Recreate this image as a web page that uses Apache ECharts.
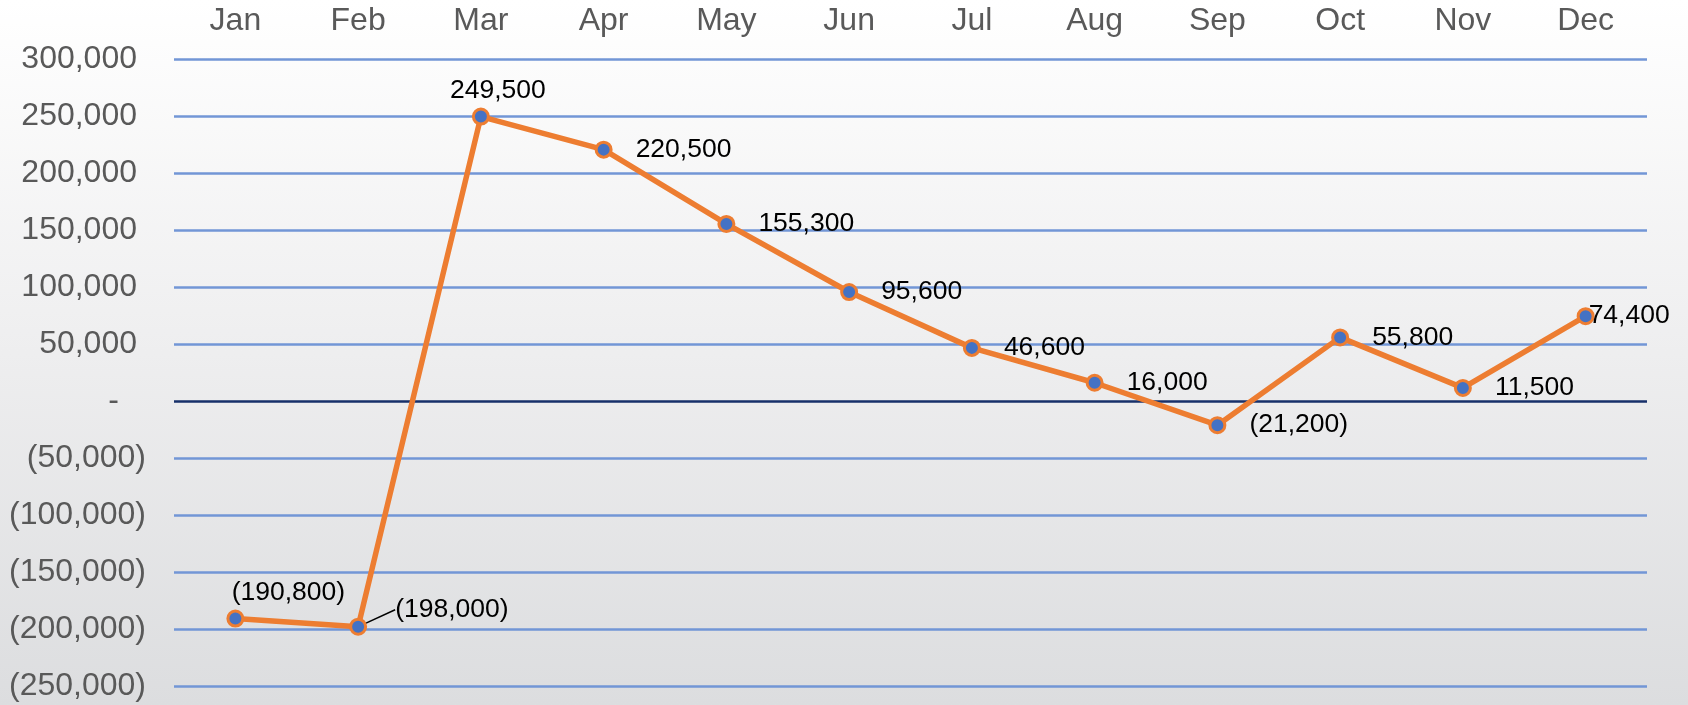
<!DOCTYPE html>
<html><head><meta charset="utf-8">
<script src="https://cdn.jsdelivr.net/npm/echarts@6/dist/echarts.min.js"></script>
<style>html,body{margin:0;padding:0;width:1688px;height:705px;overflow:hidden}#c{width:1688px;height:705px}</style>
</head><body><div id="c"></div>
<script>
const months = ['Jan','Feb','Mar','Apr','May','Jun','Jul','Aug','Sep','Oct','Nov','Dec'];
const values = [-190800, -198000, 249500, 220500, 155300, 95600, 46600, 16000, -21200, 55800, 11500, 74400];
const yMin = -250000, yMax = 300000, yStep = 50000;

const FONT = '"Liberation Sans", Arial, sans-serif';
function fmt(v) {
  if (v === 0) return '-';
  const s = Math.abs(v).toLocaleString('en-US');
  return v < 0 ? '(' + s + ')' : s;
}
const labelPos = ['top','right','top','right','right','right','right','right','right','right','right','right'];
const chart = echarts.init(document.getElementById('c'), null, {renderer: 'canvas'});

const zeroIdx = Math.round((0 - yMin) / yStep);
const nLines = Math.round((yMax - yMin) / yStep) + 1;
const splitColors = [];
for (let i = 0; i < nLines; i++) splitColors.push(i === zeroIdx ? '#17306a' : '#7296d6');

const seriesData = values.map((v, i) => {
  const item = { value: v, label: { position: labelPos[i], distance: labelPos[i] === 'top' ? 3 : 23 } };
  if (i === 11) item.label.distance = -6;
  if (i === 1) item.labelLine = { show: true, lineStyle: { color: '#000', width: 1.5 } };
  return item;
});
const layoutShift = { 0: { dx: 53 }, 1: { dx: 5, dy: -17 }, 2: { dx: 17 } };

chart.setOption({
  backgroundColor: { type: 'linear', x: 0, y: 0, x2: 0, y2: 1,
    colorStops: [{offset: 0, color: '#ffffff'}, {offset: 0.5, color: '#eeeeef'}, {offset: 1, color: '#dcdddf'}] },
  animation: false,
  grid: { left: 174, right: 41, top: 59, bottom: 19, containLabel: false },
  xAxis: {
    type: 'category', position: 'top', data: months, boundaryGap: true,
    axisLine: { show: false }, axisTick: { show: false },
    axisLabel: { color: '#595959', fontSize: 32, fontFamily: FONT, margin: 22, interval: 0 }
  },
  yAxis: {
    type: 'value', min: yMin, max: yMax, interval: yStep,
    axisLine: { show: false }, axisTick: { show: false },
    splitLine: { show: true, lineStyle: { color: splitColors, width: 2.5 } },
    axisLabel: {
      color: '#595959', fontSize: 32, fontFamily: FONT, margin: 28,
      formatter: v => v > 0 ? '{p|' + fmt(v) + '}' : (v === 0 ? '{z|-}' : '{n|' + fmt(v) + '}'),
      rich: {
        p: { color: '#595959', fontSize: 32, fontFamily: FONT, padding: [0, 9, 0, 0] },
        n: { color: '#595959', fontSize: 32, fontFamily: FONT },
        z: { color: '#595959', fontSize: 32, fontFamily: FONT, padding: [0, 27, 0, 0] }
      }
    }
  },
  series: [{
    type: 'line', data: seriesData,
    symbol: 'circle', symbolSize: 15,
    lineStyle: { color: '#ED7D31', width: 5.5 },
    itemStyle: { color: '#4472C4', borderColor: '#ED7D31', borderWidth: 3 },
    label: { show: true, color: '#000', fontSize: 26.5, fontFamily: FONT, formatter: p => fmt(p.value) },
    labelLayout: p => layoutShift[p.dataIndex] || {},
    z: 3
  }]
});
</script></body></html>
